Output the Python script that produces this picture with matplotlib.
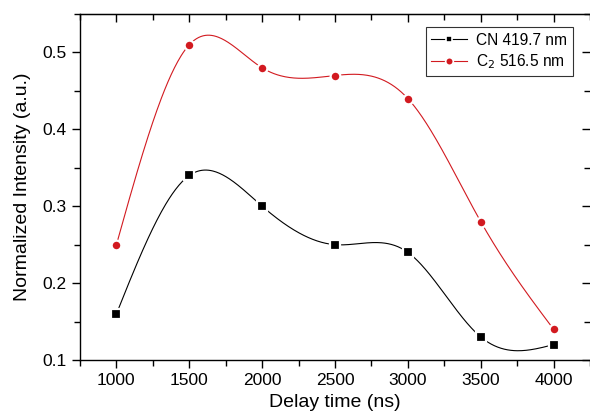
import numpy as np
import matplotlib
matplotlib.use("Agg")
import matplotlib.pyplot as plt
from matplotlib.ticker import MultipleLocator
from matplotlib.lines import Line2D

delay = [1000, 1500, 2000, 2500, 3000, 3500, 4000]
cn = [0.16, 0.34, 0.30, 0.25, 0.24, 0.13, 0.12]
c2 = [0.25, 0.51, 0.48, 0.47, 0.44, 0.28, 0.14]
labels = ["CN 419.7 nm", r"C$_2$ 516.5 nm"]

def natural_spline(x, y, n=400):
    x = np.asarray(x, float); y = np.asarray(y, float)
    k = len(x); h = np.diff(x)
    A = np.zeros((k, k)); b = np.zeros(k)
    A[0, 0] = A[-1, -1] = 1
    for i in range(1, k - 1):
        A[i, i - 1] = h[i - 1]; A[i, i] = 2 * (h[i - 1] + h[i]); A[i, i + 1] = h[i]
        b[i] = 6 * ((y[i + 1] - y[i]) / h[i] - (y[i] - y[i - 1]) / h[i - 1])
    M = np.linalg.solve(A, b)
    xs = np.linspace(x[0], x[-1], n)
    idx = np.clip(np.searchsorted(x, xs) - 1, 0, k - 2)
    x0, x1 = x[idx], x[idx + 1]; hh = x1 - x0
    ys = (M[idx] * (x1 - xs) ** 3 + M[idx + 1] * (xs - x0) ** 3) / (6 * hh) \
        + (y[idx] / hh - M[idx] * hh / 6) * (x1 - xs) \
        + (y[idx + 1] / hh - M[idx + 1] * hh / 6) * (xs - x0)
    return xs, ys

plt.rcParams['font.family'] = ['Liberation Sans', 'DejaVu Sans']
fig = plt.figure(figsize=(5.9, 4.2), dpi=100)
ax = fig.add_axes([80/590, 60/420, 510/590, 346/420])

red = '#d21a20'
for y, col, mk, ms in [(cn, 'black', 's', 6.5), (c2, red, 'o', 7)]:
    xs, ys = natural_spline(delay, y)
    ax.plot(xs, ys, color=col, lw=0.8, zorder=2)
    ax.plot(delay, y, ls='none', marker=mk, ms=ms, color=col,
            mec='white', mew=1.6, zorder=3)

ax.set_xlim(750, 4250)
ax.set_ylim(0.1, 0.55)
ax.xaxis.set_major_locator(MultipleLocator(500))
ax.xaxis.set_minor_locator(MultipleLocator(250))
ax.yaxis.set_major_locator(MultipleLocator(0.1))
ax.yaxis.set_minor_locator(MultipleLocator(0.05))
ax.tick_params(which='both', direction='out', top=False, right=False, labelsize=12.5, width=1)
ax.tick_params(which='major', length=6)
ax.tick_params(which='minor', length=4)
ax.set_xticks([1000, 1500, 2000, 2500, 3000, 3500, 4000])
ax.set_yticks([0.1, 0.2, 0.3, 0.4, 0.5])
ax.set_yticklabels(['0.1', '0.2', '0.3', '0.4', '0.5'])

secx = ax.secondary_xaxis('top')
secx.xaxis.set_major_locator(MultipleLocator(500))
secx.xaxis.set_minor_locator(MultipleLocator(250))
secx.tick_params(which='both', direction='in', labeltop=False, width=1)
secx.tick_params(which='major', length=6)
secx.tick_params(which='minor', length=4)
secy = ax.secondary_yaxis('right')
secy.yaxis.set_major_locator(MultipleLocator(0.1))
secy.yaxis.set_minor_locator(MultipleLocator(0.05))
secy.tick_params(which='both', direction='in', labelright=False, width=1)
secy.tick_params(which='major', length=6)
secy.tick_params(which='minor', length=4)
for s in ax.spines.values():
    s.set_linewidth(1)
ax.spines['right'].set_visible(False)
secy.spines['right'].set_visible(False)

ax.set_xlabel('Delay time (ns)', fontsize=14, labelpad=4)
ax.set_ylabel('Normalized Intensity (a.u.)', fontsize=14, labelpad=8)

handles = [Line2D([], [], color='black', lw=0.8, marker='s', ms=5, mec='white', mew=1.2),
           Line2D([], [], color=red, lw=0.8, marker='o', ms=5.5, mec='white', mew=1.2)]
leg = ax.legend(handles, labels, loc='upper right', bbox_to_anchor=(0.966, 0.962),
                fontsize=11.2, frameon=True, fancybox=False, edgecolor='black',
                handlelength=2.3, borderpad=0.35, labelspacing=0.3, handletextpad=0.6,
                borderaxespad=0)
leg.get_frame().set_linewidth(0.8)

fig.savefig('out.png', dpi=100)
